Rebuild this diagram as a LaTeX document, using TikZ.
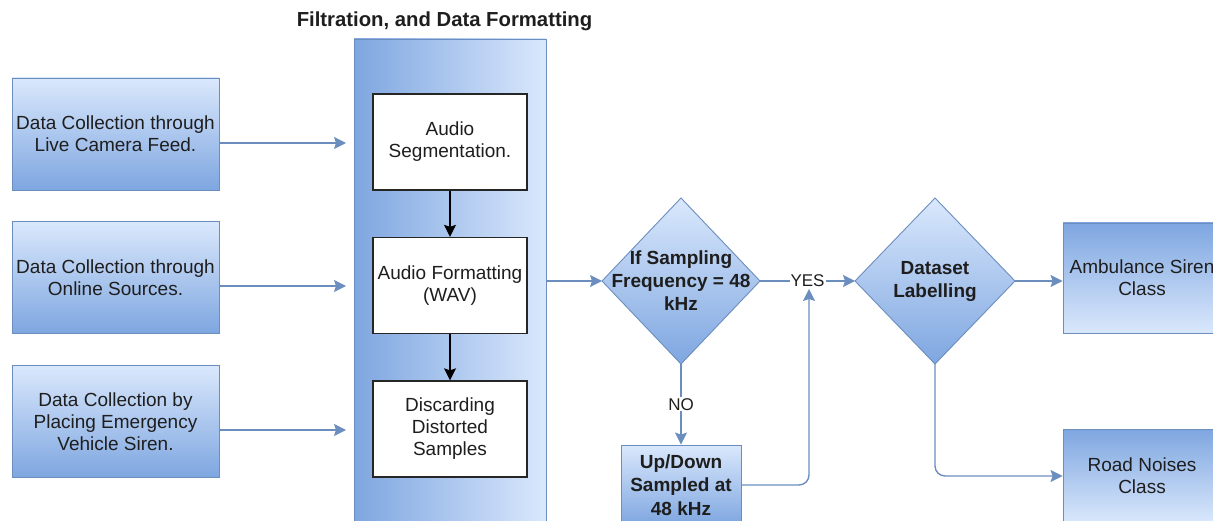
\documentclass[tikz,border=0pt]{standalone}
\usepackage{fontspec}
\setmainfont{Liberation Sans}
\usetikzlibrary{shapes.geometric,arrows.meta}
\definecolor{lightb}{HTML}{DAE8FC}
\definecolor{darkb}{HTML}{7EA6E0}
\definecolor{edgeb}{HTML}{6C8EBF}
\definecolor{txt}{HTML}{1E1E1E}
\begin{document}
\begin{tikzpicture}[x=1pt,y=-1pt,
  every node/.style={font=\fontsize{19}{22}\selectfont, text=txt},
  srcbox/.style={draw=edgeb, line width=0.9pt, top color=lightb, bottom color=darkb,
    minimum width=207pt, minimum height=112pt, align=center, inner sep=0pt},
  clsbox/.style={draw=edgeb, line width=0.9pt, top color=darkb, bottom color=lightb,
    minimum width=158pt, minimum height=110pt, align=center, inner sep=0pt},
  stepbox/.style={draw=black!85, line width=1.3pt, fill=white,
    minimum width=154pt, minimum height=96pt, align=center, inner sep=0pt},
  dia/.style={diamond, draw=edgeb, line width=0.9pt, top color=lightb, bottom color=darkb,
    minimum width=158pt, minimum height=166pt, inner sep=0pt, outer sep=0pt},
  dtext/.style={font=\fontsize{19}{23}\selectfont\bfseries, align=center, inner sep=0pt},
  arr/.style={draw=edgeb, line width=1.4pt, -{Stealth[length=12pt,width=12pt,inset=2pt]}},
  blk/.style={draw=black, line width=1.5pt, -{Stealth[length=12pt,width=12pt,inset=2pt]}},
  lbl/.style={font=\fontsize{17}{20}\selectfont, fill=white, inner sep=1pt}
]
\useasboundingbox (0,0) rectangle (1213,521);
\fill[white] (0,0) rectangle (1213,521);
\clip (0,0) rectangle (1213,521);

% title
\node[font=\fontsize{20.3}{24}\selectfont\bfseries] (title) at (444.5,21) {Filtration, and Data Formatting};

% container
\node[draw=edgeb, line width=0.9pt, left color=darkb, right color=lightb,
  minimum width=192pt, minimum height=500pt, inner sep=0pt] (cont) at (450,289) {};

% source boxes
\node[srcbox] (b1) at (115.5,134) {Data Collection through\\Live Camera Feed.};
\node[srcbox] (b2) at (115.5,277.5) {Data Collection through\\Online Sources.};
\node[srcbox] (b3) at (115.5,421.5) {Data Collection by\\Placing Emergency\\Vehicle Siren.};

% targets on container edge
\coordinate (t1) at (346,143);
\coordinate (t2) at (346,286);
\coordinate (t3) at (346,430);
\draw[arr] (b1.east |- t1) -- (t1);
\draw[arr] (b2.east |- t2) -- (t2);
\draw[arr] (b3.east |- t3) -- (t3);

% inner steps
\node[stepbox] (sa) at (450,142) {Audio\\Segmentation.};
\node[stepbox] (sb) at (450,285.5) {Audio Formatting\\(WAV)};
\node[stepbox] (sc) at (450,429) {Discarding\\Distorted\\Samples};
\draw[blk] (sa) -- (sb);
\draw[blk] (sb) -- (sc);

% decision 1
\node[dia, label={[dtext]center:{If Sampling\\Frequency = 48\\kHz}}] (d1) at (681,281) {};
\draw[arr] (cont.east |- d1.west) -- (d1.west);

% decision 2
\node[dia, minimum width=160pt, label={[dtext]center:{Dataset\\Labelling}}] (d2) at (935,281) {};
\draw[arr] (d1.east) -- node[lbl] {YES} (d2.west);

% resampling box
\node[draw=edgeb, line width=0.9pt, top color=lightb, bottom color=darkb,
  minimum width=120pt, minimum height=80pt, align=center, inner sep=0pt,
  font=\fontsize{19}{23.5}\selectfont\bfseries] (ud) at (681,485) {Up/Down\\Sampled at\\48 kHz};
\draw[arr] (d1.south) -- node[lbl] {NO} (ud.north);
\coordinate (yin) at (809,289);
\draw[arr, rounded corners=10pt] (ud.east) -| (yin);

% classes
\node[clsbox] (amb) at (1142,278) {Ambulance Siren\\Class};
\node[clsbox, minimum height=94pt] (road) at (1142,476) {Road Noises\\Class};
\draw[arr] (d2.east) -- (amb.west |- d2.east);
\draw[arr, rounded corners=10pt] (d2.south) |- (road.west);
\end{tikzpicture}
\end{document}
